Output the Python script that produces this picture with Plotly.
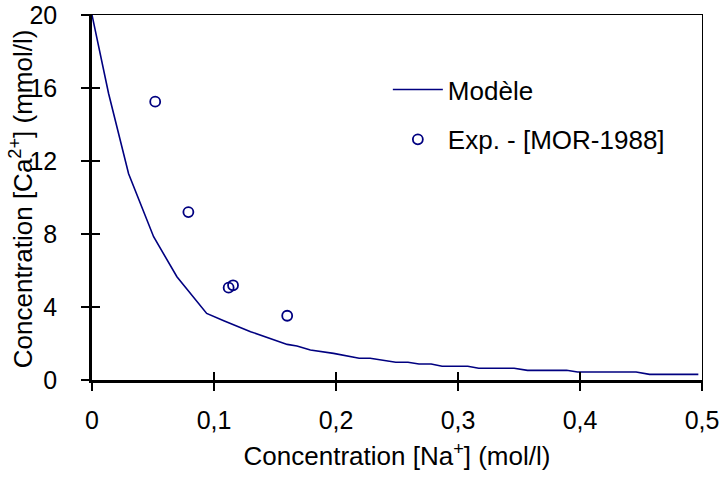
import plotly.graph_objects as go

# Model curve
model_x = [0.0, 0.0136, 0.030, 0.0505, 0.0696, 0.085, 0.094, 0.108, 0.130, 0.160, 0.168, 0.179,
           0.198, 0.219, 0.228, 0.249, 0.259, 0.268, 0.278, 0.287, 0.308, 0.317, 0.346,
           0.357, 0.389, 0.398, 0.446, 0.457, 0.497]
model_y = [20.0, 15.7, 11.3, 7.85, 5.66, 4.35, 3.65, 3.25, 2.65, 1.95, 1.86, 1.64,
           1.46, 1.19, 1.19, 0.97, 0.97, 0.88, 0.88, 0.75, 0.75, 0.64, 0.64,
           0.53, 0.53, 0.44, 0.44, 0.31, 0.31]

# Experimental data
exp_x = [0.0518, 0.079, 0.112, 0.1156, 0.160]
exp_y = [15.25, 9.2, 5.06, 5.19, 3.52]

x_ticks = [0, 0.1, 0.2, 0.3, 0.4, 0.5]
x_ticklabels = ["0", "0,1", "0,2", "0,3", "0,4", "0,5"]
y_ticks = [0, 4, 8, 12, 16, 20]
y_ticklabels = ["0", "4", "8", "12", "16", "20"]

navy = "#000080"
font = "Liberation Sans, Arial, sans-serif"
TICK_FS = 25
TITLE_FS = 26

fig = go.Figure()
fig.add_trace(go.Scatter(x=model_x, y=model_y, mode="lines", name="Modèle",
                         line=dict(color=navy, width=1.6), legendgroup="a"))
fig.add_trace(go.Scatter(x=exp_x, y=exp_y, mode="markers", name="Exp. - [MOR-1988]",
                         marker=dict(symbol="circle-open", size=10, color=navy,
                                     line=dict(width=1.8, color=navy)),
                         legendgroup="b"))

common_hidden = dict(showgrid=False, zeroline=False, showticklabels=False)

fig.update_layout(
    width=721, height=477,
    margin=dict(l=92, r=19, t=15, b=97),
    paper_bgcolor="white", plot_bgcolor="white",
    font=dict(family=font, size=TICK_FS, color="black"),
    showlegend=True,
    legend=dict(x=0.485, y=0.86, xanchor="left", yanchor="top",
                bgcolor="rgba(0,0,0,0)", tracegroupgap=13,
                font=dict(size=26), itemwidth=50),
    xaxis=dict(range=[0, 0.5], tickvals=x_ticks, ticktext=x_ticklabels, automargin=False,
               showgrid=False, zeroline=False, showline=True, linecolor="black",
               linewidth=2.5, ticks="outside", ticklen=8, tickwidth=2, tickcolor="black",
               ticklabelstandoff=8, ticklabeloverflow="allow",
               title=dict(text="Concentration [Na<sup>+</sup>] (mol/l)", standoff=15,
                          font=dict(size=TITLE_FS)),
               tickfont=dict(size=TICK_FS)),
    yaxis=dict(range=[0, 20], tickvals=y_ticks, ticktext=y_ticklabels, automargin=False,
               showgrid=False, zeroline=False, showline=True, linecolor="black",
               linewidth=2.5, ticks="outside", ticklen=8, tickwidth=2, tickcolor="black",
               ticklabelstandoff=19, ticklabeloverflow="allow",
               tickfont=dict(size=TICK_FS)),
    # inside halves of the crossing ticks
    xaxis2=dict(overlaying="x", matches="x", side="bottom", range=[0, 0.5],
                tickvals=x_ticks, ticks="inside", ticklen=8,
                tickwidth=2, tickcolor="black", showline=False, **common_hidden),
    yaxis2=dict(overlaying="y", matches="y", side="left", range=[0, 20],
                tickvals=y_ticks, ticks="inside", ticklen=8,
                tickwidth=2, tickcolor="black", showline=False, **common_hidden),
    # thin top and right frame lines
    xaxis3=dict(overlaying="x", matches="x", side="top", range=[0, 0.5], ticks="",
                showline=True, linecolor="black", linewidth=1.3, **common_hidden),
    yaxis3=dict(overlaying="y", matches="y", side="right", range=[0, 20], ticks="",
                showline=True, linecolor="black", linewidth=1.3, **common_hidden),
    annotations=[
        dict(text="Concentration [Ca<sup>2+</sup>] (mmol/l)", textangle=-90,
             xref="paper", yref="paper", x=-0.1164, y=0.498,
             xanchor="center", yanchor="middle", showarrow=False,
             font=dict(size=TITLE_FS, family=font, color="black")),
    ],
)

# invisible traces to activate the secondary axes
fig.add_trace(go.Scatter(x=[None], y=[None], xaxis="x2", yaxis="y2",
                         showlegend=False, hoverinfo="skip"))
fig.add_trace(go.Scatter(x=[None], y=[None], xaxis="x3", yaxis="y3",
                         showlegend=False, hoverinfo="skip"))

# remove the default page margin so the figure fills the window exactly
fig.write_html("out.html", config={"displayModeBar": False},
               post_script="document.body.style.margin='0';document.body.style.padding='0';")
